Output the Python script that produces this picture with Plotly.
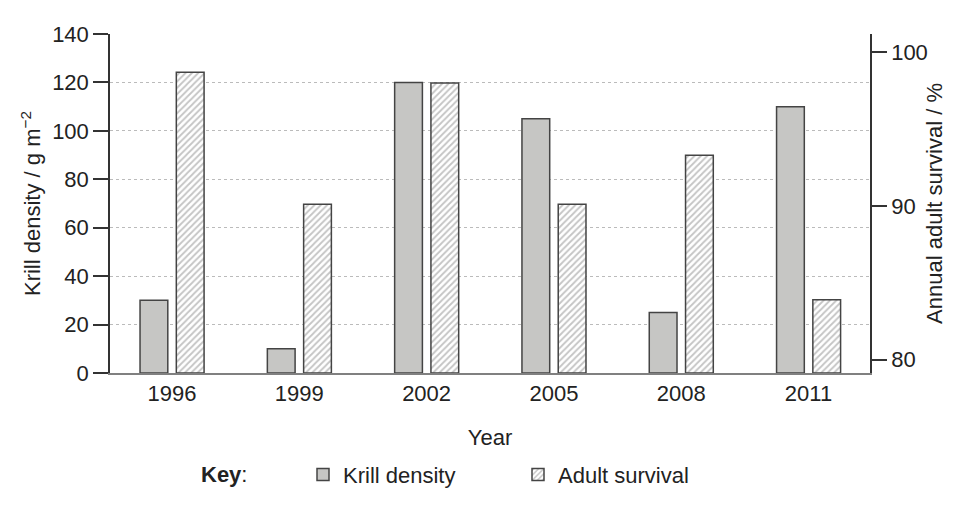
import plotly.graph_objects as go

years = ["1996", "1999", "2002", "2005", "2008", "2011"]
krill_density = [30, 10, 120, 105, 25, 110]
adult_survival = [98.7, 90.1, 98.0, 90.1, 93.3, 83.9]

left_range = [0, 140]
right_range = [79.13, 101.18]

FONT = "Liberation Sans, Arial, sans-serif"
TXT = "#222222"
FS = 22

fig = go.Figure()
fig.add_trace(go.Bar(
    x=years, y=krill_density, name="Krill density",
    width=0.218, offset=-0.251,
    marker=dict(color="#c6c6c4", line=dict(color="#444444", width=1.5)),
    yaxis="y",
))
fig.add_trace(go.Bar(
    x=years, y=[v - right_range[0] for v in adult_survival], base=right_range[0],
    name="Adult survival",
    width=0.218, offset=0.034,
    marker=dict(color="white",
                line=dict(color="#444444", width=1.5),
                pattern=dict(shape="/", fgcolor="#8a8a8a", bgcolor="white", size=4.5, solidity=0.4)),
    yaxis="y2",
))

fig.update_layout(
    width=975, height=518,
    margin=dict(l=110, r=105, t=33.5, b=145.3),
    paper_bgcolor="white", plot_bgcolor="white",
    font=dict(family=FONT, size=FS, color=TXT),
    barmode="overlay",
    showlegend=True,
    legend=dict(orientation="h", x=(303 - 110) / 760, xanchor="left", y=-0.30, yanchor="middle",
                font=dict(size=FS, color=TXT), entrywidth=170, entrywidthmode="pixels",
                itemclick=False, traceorder="normal"),
    xaxis=dict(
        type="category", range=[-0.487, 5.483],
        showline=True, linecolor="#808080", linewidth=2,
        ticks="", tickfont=dict(size=FS, color=TXT),
        title=dict(text="Year", font=dict(size=FS, color=TXT), standoff=24),
        showgrid=False, zeroline=False,
    ),
    yaxis=dict(
        range=left_range, tickmode="linear", tick0=0, dtick=20,
        showline=True, linecolor="#333333", linewidth=1.5,
        ticks="outside", ticklen=15, tickwidth=1.5, tickcolor="#333333",
        tickfont=dict(size=FS, color=TXT),
        showgrid=True, gridcolor="#bbbbbb", griddash="dot", gridwidth=1,
        zeroline=False,
        title=dict(text="Krill density / g m<sup>−2</sup>", font=dict(size=FS, color=TXT), standoff=5),
    ),
    yaxis2=dict(
        range=right_range, overlaying="y", side="right",
        tickmode="array", tickvals=[80, 90, 100],
        showline=True, linecolor="#333333", linewidth=1.5,
        ticks="outside", ticklen=15, tickwidth=1.5, tickcolor="#333333",
        tickfont=dict(size=FS, color=TXT),
        showgrid=False, zeroline=False,
        title=dict(text="Annual adult survival / %", font=dict(size=FS, color=TXT), standoff=0),
    ),
    annotations=[dict(text="<b>Key</b>:", xref="paper", yref="paper",
                      x=(224 - 110) / 760, y=-0.30, xanchor="center", yanchor="middle",
                      showarrow=False, font=dict(size=FS, color=TXT))],
)

fig.write_html("out.html")
